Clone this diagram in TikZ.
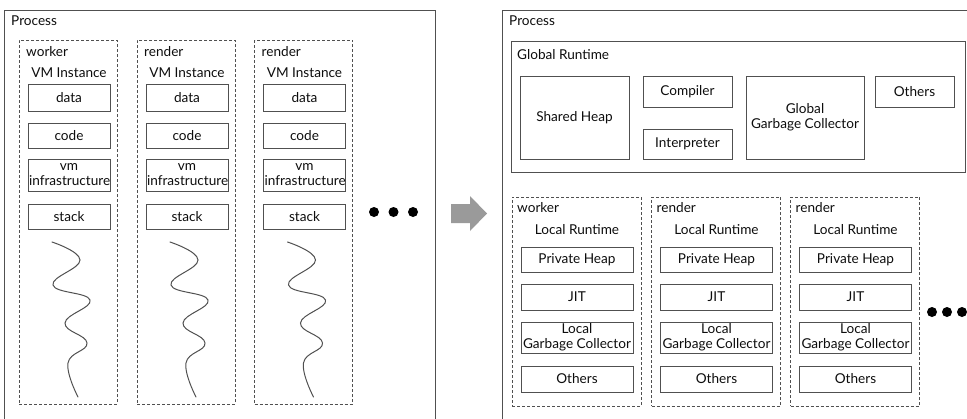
\documentclass[tikz,border=0pt]{standalone}
\usepackage{fontspec}
\setmainfont{Lato}
\definecolor{linegray}{HTML}{505050}
\definecolor{dashgray}{HTML}{505050}
\definecolor{txt}{HTML}{0D0D0D}
\definecolor{arrowgray}{HTML}{9A9A9A}
\begin{document}
\begin{tikzpicture}[x=1pt,y=-1pt,
  font=\fontsize{13.6}{15}\selectfont,
  every node/.style={text=txt},
  proc/.style={draw=linegray, line width=1pt, inner sep=0pt},
  grp/.style={draw=dashgray, line width=0.9pt, dash pattern=on 3pt off 2pt, inner sep=0pt},
  box/.style={draw=linegray, line width=0.9pt, inner sep=0pt, align=center},
  lbl/.style={inner sep=0pt, anchor=west},
  ttl/.style={inner sep=0pt},
  wave/.style={draw=linegray, line width=1pt, line cap=round},
  dot/.style={fill=black}]
\useasboundingbox (0,0) rectangle (967,418);
\clip (0,0) rectangle (967,418);

% ---------- left: one VM instance per thread ----------
\node[proc, minimum width=431, minimum height=420] (lproc) at (219.5,220) {};
\node[lbl] (lproctitle) at (11,21) {Process};

\foreach \cx/\nm/\id in {68/worker/a, 186/render/b, 303.5/render/c}{
  \node[grp, minimum width=98, minimum height=364] (vm\id) at (\cx,222) {};
  \node[lbl] (vm\id name) at (\cx-42,52) {\nm};
  \node[ttl] (vm\id title) at (\cx+1,73) {VM Instance};
  \node[box, minimum width=82, minimum height=27] (vm\id data) at (\cx+1,97.5) {data};
  \node[box, minimum width=82, minimum height=25] (vm\id code) at (\cx+1,135.5) {code};
  \node[box, minimum width=82, minimum height=32, text width=80] (vm\id infra) at (\cx+1,175) {vm\\infrastructure};
  \node[box, minimum width=82, minimum height=25] (vm\id stack) at (\cx+1,216.5) {stack};
  \draw[wave] plot[smooth, tension=0.75] coordinates
    {(\cx-16,242) (\cx+12,260) (\cx-15,285) (\cx+22,300) (\cx-3,323) (\cx+19,343) (\cx,363) (\cx+10,397)};
}

\fill[dot] (374,212) circle (5) (393.5,212) circle (5) (413,212) circle (5);

% ---------- arrow ----------
\fill[arrowgray] (451,204) -- (470,204) -- (470,196) -- (487,213.5)
  -- (470,231) -- (470,223) -- (451,223) -- cycle;

% ---------- right: shared global runtime ----------
\node[proc, minimum width=478, minimum height=420] (rproc) at (741,220) {};
\node[lbl] (rproctitle) at (509,21) {Process};

\node[proc, line width=0.9pt, minimum width=454, minimum height=131] (global) at (738,106.5) {};
\node[lbl] (globaltitle) at (517,55) {Global Runtime};
\node[box, minimum width=109, minimum height=83] (heap) at (574.5,117.5) {Shared Heap};
\node[box, minimum width=89, minimum height=31] (compiler) at (687.5,91.5) {Compiler};
\node[box, minimum width=89, minimum height=30] (interp) at (687.5,144) {Interpreter};
\node[box, minimum width=118, minimum height=83] (ggc) at (805,117.5) {Global\\Garbage Collector};
\node[box, minimum width=79, minimum height=31] (gothers) at (914.5,91.5) {Others};

\foreach \cx/\nm/\id in {576.5/worker/a, 716/render/b, 855/render/c}{
  \node[grp, minimum width=129, minimum height=209] (lr\id) at (\cx,301.5) {};
  \node[lbl] (lr\id name) at (\cx-59.5,208) {\nm};
  \node[ttl] (lr\id title) at (\cx+0.5,230) {Local Runtime};
  \node[box, minimum width=112, minimum height=25] (lr\id heap) at (\cx+0.5,259.5) {Private Heap};
  \node[box, minimum width=112, minimum height=26] (lr\id jit) at (\cx+0.5,297) {JIT};
  \node[box, minimum width=112, minimum height=31] (lr\id gc) at (\cx+0.5,337.5) {Local\\Garbage Collector};
  \node[box, minimum width=112, minimum height=26] (lr\id others) at (\cx+0.5,379) {Others};
}

\fill[dot] (932,312) circle (5) (947,312) circle (5) (962,312) circle (5);
\end{tikzpicture}
\end{document}
